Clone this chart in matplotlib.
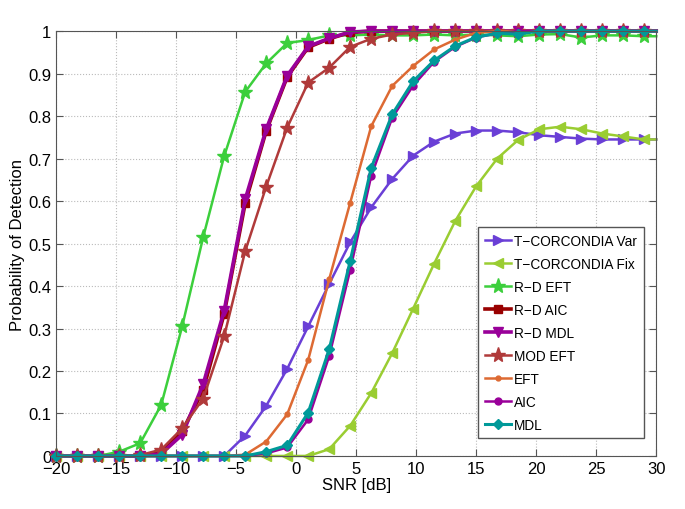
import numpy as np
import matplotlib.pyplot as plt

plt.rcParams['font.family'] = ['Liberation Sans', 'DejaVu Sans']

# SNR grid (dB); last point 30 only extends the lines to the edge
snr = [-20, -18.25, -16.5, -14.75, -13, -11.25, -9.5, -7.75, -6, -4.25,
       -2.5, -0.75, 1, 2.75, 4.5, 6.25, 8, 9.75, 11.5, 13.25,
       15, 16.75, 18.5, 20.25, 22, 23.75, 25.5, 27.25, 29, 30]

tc_var = [0, 0, 0, 0, 0, 0, 0, 0, 0, 0.048,
          0.118, 0.205, 0.305, 0.405, 0.503, 0.585, 0.652, 0.707, 0.74, 0.759,
          0.766, 0.766, 0.762, 0.755, 0.751, 0.747, 0.745, 0.745, 0.745, 0.745]
tc_fix = [0, 0, 0, 0, 0, 0, 0, 0, 0, 0,
          0, 0, 0, 0.016, 0.071, 0.148, 0.242, 0.347, 0.453, 0.553,
          0.635, 0.70, 0.744, 0.769, 0.775, 0.769, 0.759, 0.752, 0.745, 0.745]
rd_eft = [0, 0, 0, 0.01, 0.03, 0.12, 0.305, 0.515, 0.706, 0.857,
          0.924, 0.972, 0.979, 0.99, 0.99, 0.992, 0.99, 0.99, 0.992, 0.99,
          0.992, 0.99, 0.988, 0.992, 0.993, 0.985, 0.99, 0.99, 0.988, 0.988]
rd_aic = [0, 0, 0, 0, 0, 0.008, 0.058, 0.155, 0.335, 0.595,
          0.765, 0.892, 0.962, 0.982, 0.997, 1, 1, 1, 1, 1,
          1, 1, 1, 1, 1, 1, 1, 1, 1, 1]
rd_mdl = [0, 0, 0, 0, 0, 0.005, 0.05, 0.169, 0.342, 0.604,
          0.769, 0.895, 0.964, 0.983, 0.998, 1, 1, 1, 1, 1,
          1, 1, 1, 1, 1, 1, 1, 1, 1, 1]
mod_eft = [0, 0, 0, 0, 0.002, 0.015, 0.065, 0.135, 0.282, 0.482,
           0.634, 0.773, 0.879, 0.914, 0.963, 0.982, 0.992, 0.996, 1, 1,
           1, 1, 1, 1, 1, 1, 1, 1, 1, 1]
eft = [0, 0, 0, 0, 0, 0, 0, 0, 0, 0.003,
       0.034, 0.098, 0.226, 0.416, 0.596, 0.776, 0.871, 0.918, 0.957, 0.98,
       0.996, 1, 1, 1, 1, 1, 1, 1, 1, 1]
aic = [0, 0, 0, 0, 0, 0, 0, 0, 0, 0,
       0.006, 0.02, 0.086, 0.235, 0.438, 0.659, 0.796, 0.872, 0.928, 0.963,
       0.985, 0.995, 1, 1, 1, 1, 1, 1, 1, 1]
mdl = [0, 0, 0, 0, 0, 0, 0, 0, 0, 0,
       0.01, 0.025, 0.102, 0.251, 0.459, 0.678, 0.804, 0.882, 0.931, 0.965,
       0.986, 0.995, 0.993, 1, 1, 1, 1, 1, 1, 1]

fig = plt.figure(figsize=(6.85, 5.1), dpi=100)
ax = fig.add_axes([0.082, 0.104, 0.876, 0.833])

mk = list(range(29))
series = [
    (tc_var, 'T\u2212CORCONDIA Var', '#6a3fd6', '>', 7, 1.8),
    (tc_fix, 'T\u2212CORCONDIA Fix', '#9acd32', '<', 7, 1.8),
    (rd_eft, 'R\u2212D EFT', '#3ccf3c', '*', 11, 1.8),
    (rd_aic, 'R\u2212D AIC', '#990000', 's', 6, 2.6),
    (rd_mdl, 'R\u2212D MDL', '#990099', 'v', 7, 2.6),
    (mod_eft, 'MOD EFT', '#b03a3a', '*', 11, 1.8),
    (eft, 'EFT', '#dd6a33', '.', 7, 1.8),
    (aic, 'AIC', '#990099', 'o', 5, 1.8),
    (mdl, 'MDL', '#009999', 'D', 5, 2.2),
]
for ys, lab, col, m, ms, lw in series:
    ax.plot(snr, ys, color=col, marker=m, markersize=ms, linewidth=lw,
            markevery=mk, label=lab, clip_on=False)

ax.set_xlim(-20, 30)
ax.set_ylim(0, 1)
ax.set_xticks(range(-20, 31, 5))
ax.set_yticks(np.arange(0, 1.01, 0.1))
ax.set_yticklabels(['0', '0.1', '0.2', '0.3', '0.4', '0.5', '0.6', '0.7', '0.8', '0.9', '1'])
ax.tick_params(direction='in', top=True, right=True, labelsize=12, length=5, color='#555555')
for s in ax.spines.values():
    s.set_color('#555555')
ax.grid(True, linestyle=':', color='#bbbbbb', linewidth=0.8)
ax.set_xlabel('SNR [dB]', fontsize=12, labelpad=1)
ax.set_ylabel('Probability of Detection', fontsize=12, labelpad=2)

leg = ax.legend(loc='upper left', bbox_to_anchor=(0.703, 0.539), fontsize=9.8,
                fancybox=False, framealpha=1, edgecolor='#555555', borderaxespad=0,
                handlelength=1.9, handletextpad=0.25, borderpad=0.5, labelspacing=0.66)
leg.get_frame().set_linewidth(1.0)

fig.savefig('out.png', dpi=100)
